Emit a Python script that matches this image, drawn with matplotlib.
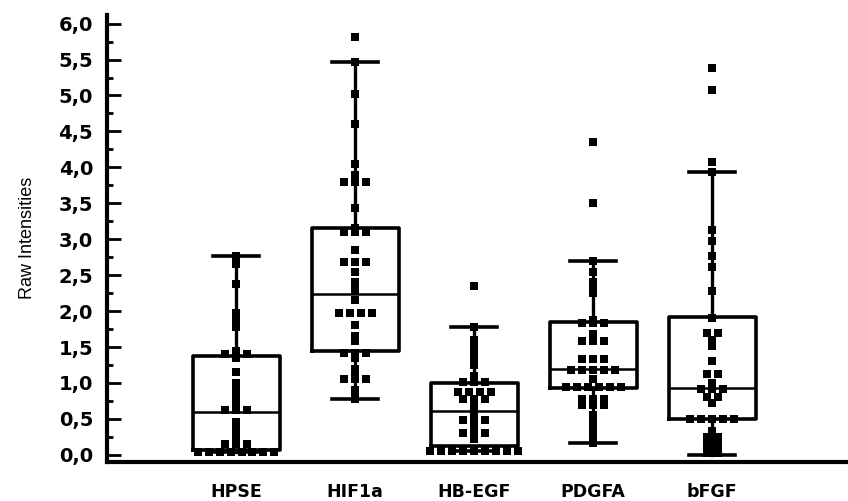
import numpy as np
import matplotlib.pyplot as plt
from matplotlib.ticker import MultipleLocator, FuncFormatter

genes = ['HPSE', 'HIF1a', 'HB-EGF', 'PDGFA', 'bFGF']

# individual measurements per gene
hpse = [2.77, 2.65, 2.38, 1.97, 1.88, 1.78, 1.45, 1.40, 1.40, 1.40, 1.35,
        1.15, 1.00, 0.90, 0.80, 0.72, 0.62, 0.62, 0.62, 0.45, 0.35, 0.28,
        0.20, 0.15, 0.15, 0.15] + [0.04] * 8
hif1a = [5.81, 5.47, 5.02, 4.61, 4.04, 3.90, 3.80, 3.80, 3.80, 3.43, 3.16,
         3.10, 3.10, 3.10, 2.85, 2.68, 2.68, 2.68, 2.55, 2.40, 2.30, 2.15,
         1.97, 1.97, 1.97, 1.97, 1.80, 1.65, 1.58, 1.42, 1.42, 1.42, 1.35,
         1.20, 1.15, 1.05, 1.05, 1.05, 0.90, 0.85, 0.78]
hbegf = [2.35, 1.78, 1.60, 1.55, 1.45, 1.35, 1.25, 1.10, 1.02, 1.02, 1.02,
         0.88, 0.88, 0.88, 0.88, 0.77, 0.77, 0.77, 0.68, 0.60, 0.49, 0.49,
         0.49, 0.40, 0.30, 0.30, 0.30, 0.22] + [0.05] * 9
pdgfa = [4.35, 3.51, 2.69, 2.55, 2.40, 2.30, 2.25, 1.88, 1.83, 1.83, 1.83,
         1.68, 1.59, 1.59, 1.59, 1.34, 1.34, 1.34, 1.18, 1.18, 1.18, 1.18,
         1.18, 1.06, 0.95, 0.95, 0.95, 0.95, 0.95, 0.95, 0.78, 0.78, 0.78,
         0.70, 0.70, 0.70, 0.55, 0.45, 0.35, 0.25, 0.16]
bfgf = [5.38, 5.08, 4.08, 3.94, 3.13, 2.98, 2.77, 2.62, 2.28, 1.91, 1.69,
        1.69, 1.60, 1.52, 1.31, 1.13, 1.13, 1.00, 0.92, 0.92, 0.92, 0.80,
        0.80, 0.72, 0.50, 0.50, 0.50, 0.50, 0.50, 0.33, 0.25, 0.25, 0.15,
        0.15, 0.08, 0.08, 0.02, 0.02]

# box statistics
q1 = [0.07, 1.45, 0.12, 0.93, 0.50]
medians = [0.60, 2.24, 0.61, 1.20, 0.93]
q3 = [1.38, 3.15, 1.00, 1.85, 1.92]
whis_lo = [0.04, 0.78, 0.05, 0.16, 0.00]
whis_hi = [2.77, 5.47, 1.78, 2.69, 3.94]


def spread(values, step=0.092):
    # put equal values side by side, centred on the box
    vals = np.asarray(values)
    offs = np.zeros(len(vals))
    for v in np.unique(vals):
        idx = np.where(vals == v)[0]
        offs[idx] = (np.arange(len(idx)) - (len(idx) - 1) / 2) * step
    return offs


fig = plt.figure(figsize=(8.48, 5.01), dpi=100)
ax = fig.add_axes([107 / 848, 39 / 501, 1 - 107 / 848, 447 / 501])

pos = np.arange(1, 6)
stats = [dict(med=m, q1=a, q3=b, whislo=lo, whishi=hi, fliers=[])
         for m, a, b, lo, hi in zip(medians, q1, q3, whis_lo, whis_hi)]
ax.bxp(stats, positions=pos, widths=0.73, capwidths=0.39, showfliers=False,
       boxprops=dict(color='k', linewidth=2.6),
       medianprops=dict(color='k', linewidth=1.8),
       whiskerprops=dict(color='k', linewidth=2.4),
       capprops=dict(color='k', linewidth=2.6))

for p, vals in zip(pos, [hpse, hif1a, hbegf, pdgfa, bfgf]):
    ax.plot(p + spread(vals), vals, 's', color='k', markersize=5.8,
            markeredgewidth=0, zorder=3)

ax.set_xlim(-0.084, 6.14)
ax.set_ylim(-0.1, 6.12)

ax.yaxis.set_major_locator(MultipleLocator(0.5))
ax.yaxis.set_minor_locator(MultipleLocator(0.25))
ax.yaxis.set_major_formatter(FuncFormatter(lambda v, _: f'{v:.1f}'.replace('.', ',')))
ax.tick_params(axis='y', which='major', direction='in', length=10, width=2,
               pad=10, labelsize=14)
ax.tick_params(axis='y', which='minor', direction='in', length=4, width=2)
ax.set_xticks(pos)
ax.set_xticklabels(genes)
ax.tick_params(axis='x', length=0, pad=15, labelsize=12.5)
for lab in ax.get_xticklabels() + ax.get_yticklabels():
    lab.set_fontweight('bold')

for s in ['top', 'right']:
    ax.spines[s].set_visible(False)
for s in ['left', 'bottom']:
    ax.spines[s].set_linewidth(3)

fig.text(28 / 848, 1 - 238 / 501, 'Raw Intensities', rotation=90,
         ha='center', va='center', fontsize=13,
         family=['Liberation Sans', 'DejaVu Sans'])

fig.savefig('out.png', dpi=100)
